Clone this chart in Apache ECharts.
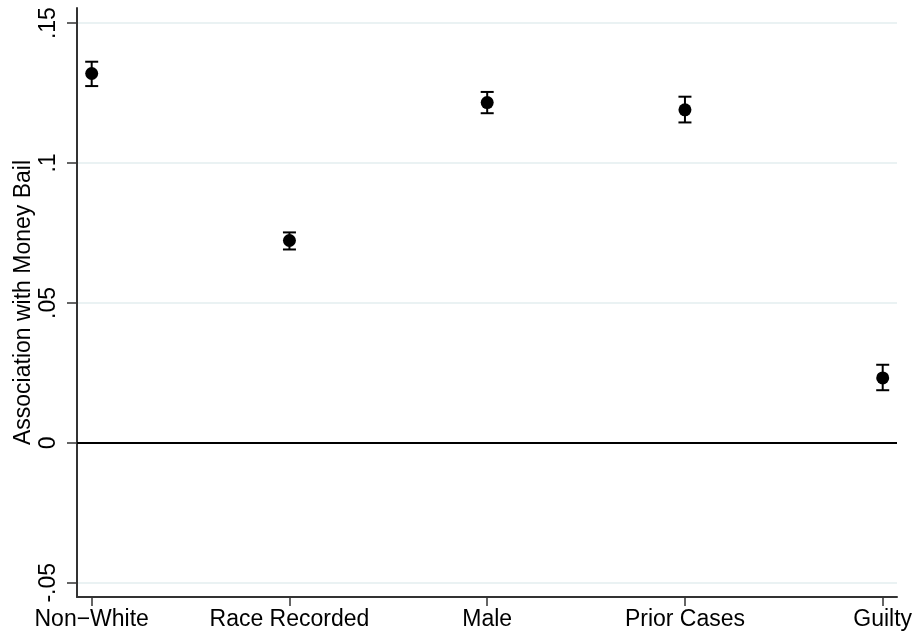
<!DOCTYPE html>
<html>
<head>
<meta charset="utf-8">
<script src="https://cdn.jsdelivr.net/npm/echarts@6/dist/echarts.min.js"></script>
<style>
html, body { margin: 0; padding: 0; background: #fff; }
#coefPlot { width: 918px; height: 639px; }
</style>
</head>
<body>
<div id="coefPlot"></div>
<script>
var categories = ['Non\u2212White', 'Race Recorded', 'Male', 'Prior Cases', 'Guilty'];
var estimates = [0.1320, 0.0723, 0.1216, 0.1190, 0.0232];
var lowerCI = [0.1275, 0.0691, 0.1178, 0.1145, 0.0188];
var upperCI = [0.1362, 0.0752, 0.1254, 0.1237, 0.0279];
var yTicks = [-0.05, 0, 0.05, 0.1, 0.15];
var yTickLabels = ['-.05', '0', '.05', '.1', '.15'];
var xTicks = [1, 2, 3, 4, 5];

var pointData = [];
var barData = [];
for (var i = 0; i < categories.length; i++) {
    pointData.push([i + 1, estimates[i]]);
    barData.push([i + 1, lowerCI[i], upperCI[i]]);
}

var chart = echarts.init(document.getElementById('coefPlot'));
chart.setOption({
    animation: false,
    textStyle: {fontFamily: 'Liberation Sans, Arial, sans-serif'},
    grid: {left: 77, right: 21, top: 8, bottom: 42, containLabel: false, outerBoundsMode: 'none'},
    xAxis: {
        type: 'value',
        min: 0.9257,
        max: 5.0723,
        axisLine: {show: true, onZero: false, lineStyle: {color: '#333', width: 2}},
        axisTick: {show: true, length: 9, customValues: xTicks, lineStyle: {color: '#333', width: 1.5}},
        axisLabel: {
            customValues: xTicks,
            fontSize: 23,
            color: '#000',
            margin: 11,
            formatter: function(v) { return categories[Math.round(v) - 1]; }
        },
        splitLine: {show: false}
    },
    yAxis: {
        type: 'value',
        min: -0.0551,
        max: 0.1554,
        name: 'Association with Money Bail',
        nameLocation: 'middle',
        nameGap: 42,
        nameMoveOverlap: false,
        nameTextStyle: {fontSize: 23, color: '#000'},
        axisLine: {show: true, onZero: false, lineStyle: {color: '#333', width: 2}},
        axisTick: {show: true, length: 10, customValues: yTicks, lineStyle: {color: '#333', width: 1.5}},
        axisLabel: {
            customValues: yTicks,
            rotate: 90,
            fontSize: 23,
            color: '#000',
            margin: 17,
            formatter: function(v) {
                for (var k = 0; k < yTicks.length; k++) {
                    if (Math.abs(yTicks[k] - v) < 1e-9) return yTickLabels[k];
                }
                return '';
            }
        },
        splitLine: {show: true, lineStyle: {color: '#eaf2f3', width: 2}}
    },
    series: [{
        type: 'custom',
        data: barData,
        z: 3,
        renderItem: function(params, api) {
            var lo = api.coord([api.value(0), api.value(1)]);
            var hi = api.coord([api.value(0), api.value(2)]);
            var half = 6.5;
            var style = {stroke: '#000', lineWidth: 2};
            return {
                type: 'group',
                children: [
                    {type: 'line', shape: {x1: lo[0], y1: lo[1], x2: hi[0], y2: hi[1]}, style: style},
                    {type: 'line', shape: {x1: lo[0] - half, y1: lo[1], x2: lo[0] + half, y2: lo[1]}, style: style},
                    {type: 'line', shape: {x1: hi[0] - half, y1: hi[1], x2: hi[0] + half, y2: hi[1]}, style: style}
                ]
            };
        }
    }, {
        type: 'scatter',
        data: pointData,
        symbol: 'circle',
        symbolSize: 13,
        z: 4,
        itemStyle: {color: '#000', opacity: 1},
        markLine: {
            silent: true,
            symbol: 'none',
            label: {show: false},
            lineStyle: {color: '#000', width: 2, type: 'solid'},
            data: [{yAxis: 0}]
        }
    }]
});
</script>
</body>
</html>
